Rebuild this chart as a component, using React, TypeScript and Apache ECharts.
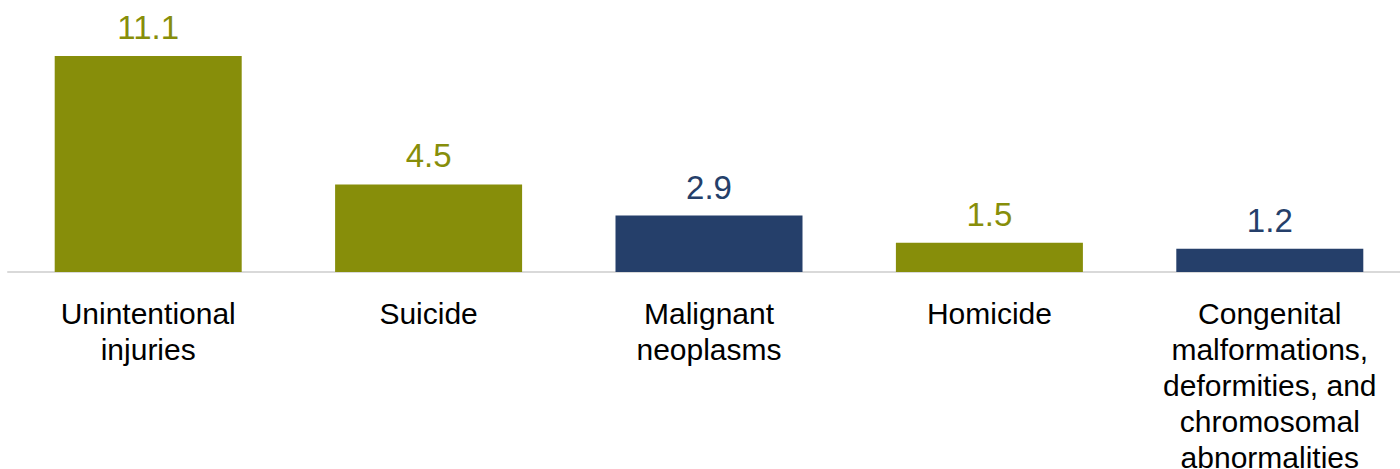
import React, { useEffect, useRef } from "react";
import * as echarts from "echarts";

const categories = [
  "Unintentional\ninjuries",
  "Suicide",
  "Malignant\nneoplasms",
  "Homicide",
  "Congenital\nmalformations,\ndeformities, and\nchromosomal\nabnormalities",
];
const values = [11.1, 4.5, 2.9, 1.5, 1.2];
const OLIVE = "#878E0A";
const NAVY = "#253F6A";
const barColors = [OLIVE, OLIVE, NAVY, OLIVE, NAVY];

export default function App() {
  const ref = useRef<HTMLDivElement>(null);
  useEffect(() => {
    if (!ref.current) return;
    const chart = echarts.init(ref.current, undefined, { renderer: "svg" });
    chart.setOption({
      animation: false,
      grid: {
        left: 8,
        right: -10,
        top: 38.5,
        bottom: 197,
        containLabel: false,
        outerBoundsMode: "none",
      },
      xAxis: {
        type: "category",
        data: categories,
        axisTick: { show: false },
        axisLine: { show: true, lineStyle: { color: "#d9d9d9", width: 2 } },
        axisLabel: {
          interval: 0,
          margin: 23,
          color: "#000",
          fontSize: 30,
          lineHeight: 36,
          fontFamily: "Liberation Sans, Arial, sans-serif",
        },
      },
      yAxis: {
        type: "value",
        min: 0,
        max: 12,
        show: false,
        splitLine: { show: false },
      },
      series: [
        {
          type: "bar",
          barWidth: 187,
          data: values.map((v, i) => ({
            value: v,
            itemStyle: { color: barColors[i] },
            label: { color: barColors[i] },
          })),
          label: {
            show: true,
            position: "top",
            distance: 12,
            fontSize: 33,
            fontFamily: "Liberation Sans, Arial, sans-serif",
            formatter: (p: any) => p.value.toFixed(1),
          },
        },
      ],
    });
    return () => chart.dispose();
  }, []);
  return (
    <div
      ref={ref}
      style={{ position: "absolute", left: 0, top: 0, width: 1400, height: 469 }}
    />
  );
}
